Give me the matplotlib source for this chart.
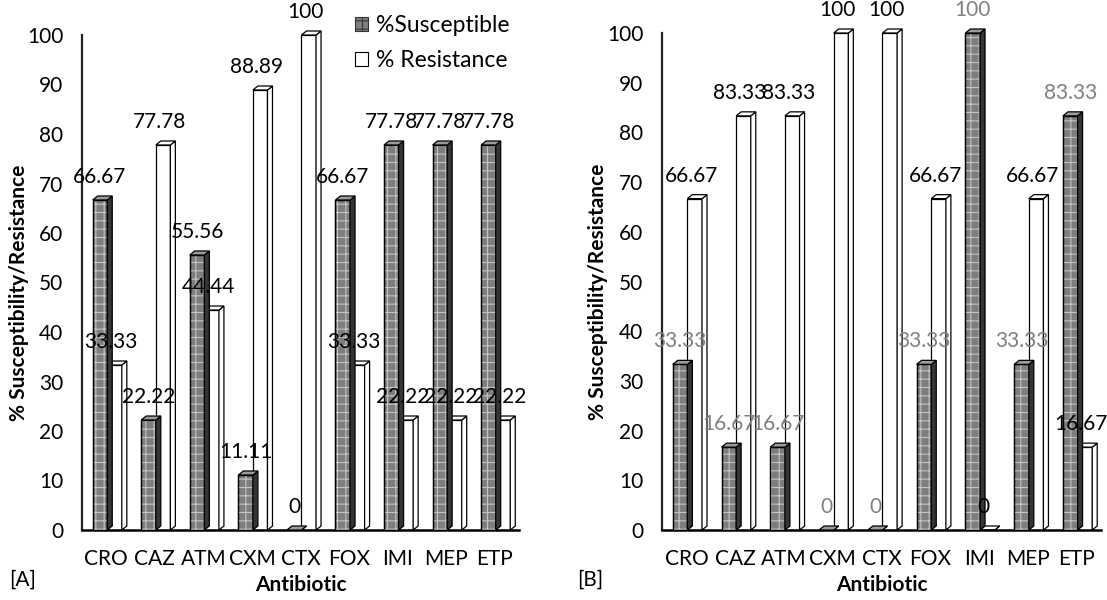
import numpy as np
import matplotlib
matplotlib.use("Agg")
import matplotlib.pyplot as plt
from matplotlib.patches import Polygon, Patch

plt.rcParams['font.family'] = ['Lato', 'DejaVu Sans']
plt.rcParams['hatch.linewidth'] = 0.8

# data
antibiotics = ["CRO", "CAZ", "ATM", "CXM", "CTX", "FOX", "IMI", "MEP", "ETP"]
sus_a = [66.67, 22.22, 55.56, 11.11, 0, 66.67, 77.78, 77.78, 77.78]
res_a = [33.33, 77.78, 44.44, 88.89, 100, 33.33, 22.22, 22.22, 22.22]
sus_b = [33.33, 16.67, 16.67, 0, 0, 33.33, 100, 33.33, 83.33]
res_b = [66.67, 83.33, 83.33, 100, 100, 66.67, 0, 66.67, 16.67]
yticks = [0, 10, 20, 30, 40, 50, 60, 70, 80, 90, 100]

W = 1107
H = 600
FS = 15
fig = plt.figure(figsize=(W / 100, H / 100), dpi=100)

SUS_FACE = "#7e7e7e"
SUS_HATCH = "#c4c4c4"
SUS_SIDE = "#353535"
SUS_TOP = "#9c9c9c"


def bars3d(ax, left, vals, w, face, side, top, hatch=None, z=2):
    bb = ax.get_window_extent()
    ppx = bb.width / 9.0
    ppy = bb.height / 100.0
    dx = 5 / ppx
    dy = 4 / ppy
    ax.bar(left, vals, width=w, align='edge', color=face, edgecolor='black',
           linewidth=0.9, zorder=z)
    if hatch:
        ax.bar(left, vals, width=w, align='edge', color='none', edgecolor=SUS_HATCH,
               hatch=hatch, linewidth=0, zorder=z + 0.1)
        ax.bar(left, vals, width=w, align='edge', color='none', edgecolor='black',
               linewidth=0.9, zorder=z + 0.2)
    for l, v in zip(left, vals):
        tp = [(l, v), (l + w, v), (l + w + dx, v + dy), (l + dx, v + dy)]
        sp = [(l + w, 0), (l + w + dx, dy), (l + w + dx, v + dy), (l + w, v)]
        ax.add_patch(Polygon(sp, closed=True, facecolor=side, edgecolor='black',
                             linewidth=0.9, zorder=z + 0.3, clip_on=False))
        ax.add_patch(Polygon(tp, closed=True, facecolor=top, edgecolor='black',
                             linewidth=0.9, zorder=z + 0.3, clip_on=False))


def panel(rect, sus, res, sus_lbl_color, tag, tag_x, ylab_x):
    ax = fig.add_axes(rect)
    x = np.arange(len(antibiotics))
    ax.set_xlim(-0.5, len(antibiotics) - 0.5)
    ax.set_ylim(0, 100)
    w = 0.3
    sus_left = x - 0.28
    res_left = sus_left + w
    # resistance first so the susceptible side face sits on top of it
    bars3d(ax, res_left, res, w, 'white', 'white', 'white', z=2)
    bars3d(ax, sus_left, sus, w, SUS_FACE, SUS_SIDE, SUS_TOP, hatch='++', z=3)

    for l, v in zip(sus_left, sus):
        ax.annotate(f"{v:g}", (l + w / 2, v), xytext=(0, 16.5), textcoords='offset points',
                    ha='center', va='center', fontsize=FS, color=sus_lbl_color,
                    zorder=6, annotation_clip=False)
    for l, v in zip(res_left, res):
        ax.annotate(f"{v:g}", (l + w / 2, v), xytext=(-2.5, 16.5), textcoords='offset points',
                    ha='center', va='center', fontsize=FS, color='black',
                    zorder=6, annotation_clip=False)

    ax.set_xticks(x)
    ax.set_xticklabels(antibiotics, fontsize=FS)
    ax.set_yticks(yticks)
    ax.set_yticklabels([str(t) for t in yticks], fontsize=FS)
    ax.tick_params(axis='both', length=0)
    ax.tick_params(axis='y', pad=13.5)
    ax.tick_params(axis='x', pad=14)
    for s in ['top', 'right']:
        ax.spines[s].set_visible(False)
    ax.spines['left'].set_linewidth(1.6)
    ax.spines['left'].set_color('#222222')
    ax.spines['bottom'].set_linewidth(1.8)
    ax.set_xlabel("Antibiotic", fontsize=FS, fontweight='bold', labelpad=4)
    ax.set_ylabel("% Susceptibility/Resistance", fontsize=FS, fontweight='bold')
    ax.yaxis.set_label_coords((ylab_x - rect[0] * W) / (rect[2] * W), 0.48)
    fig.text(tag_x / W, 1 - 580 / H, tag, fontsize=FS, va='center', ha='left')
    return ax


ax_a = panel([82 / W, 1 - 530 / H, 437 / W, 495 / H], sus_a, res_a, 'black', "[A]", 9, 29)
ax_b = panel([662 / W, 1 - 530 / H, 439 / W, 497 / H], sus_b, res_b, '#7f7f7f', "[B]", 577, 608)

handles = [Patch(facecolor=SUS_FACE, edgecolor='#333333', hatch='++', linewidth=0.8),
           Patch(facecolor='white', edgecolor='black', linewidth=0.8)]
fig.legend(handles, ["%Susceptible", "% Resistance"], loc='upper left',
           bbox_to_anchor=(355 / W, 1 - 15 / H), frameon=False, fontsize=16.5,
           handlelength=0.55, handleheight=0.55, handletextpad=0.35,
           labelspacing=0.6, borderaxespad=0, borderpad=0)

fig.savefig("out.png", dpi=100)
